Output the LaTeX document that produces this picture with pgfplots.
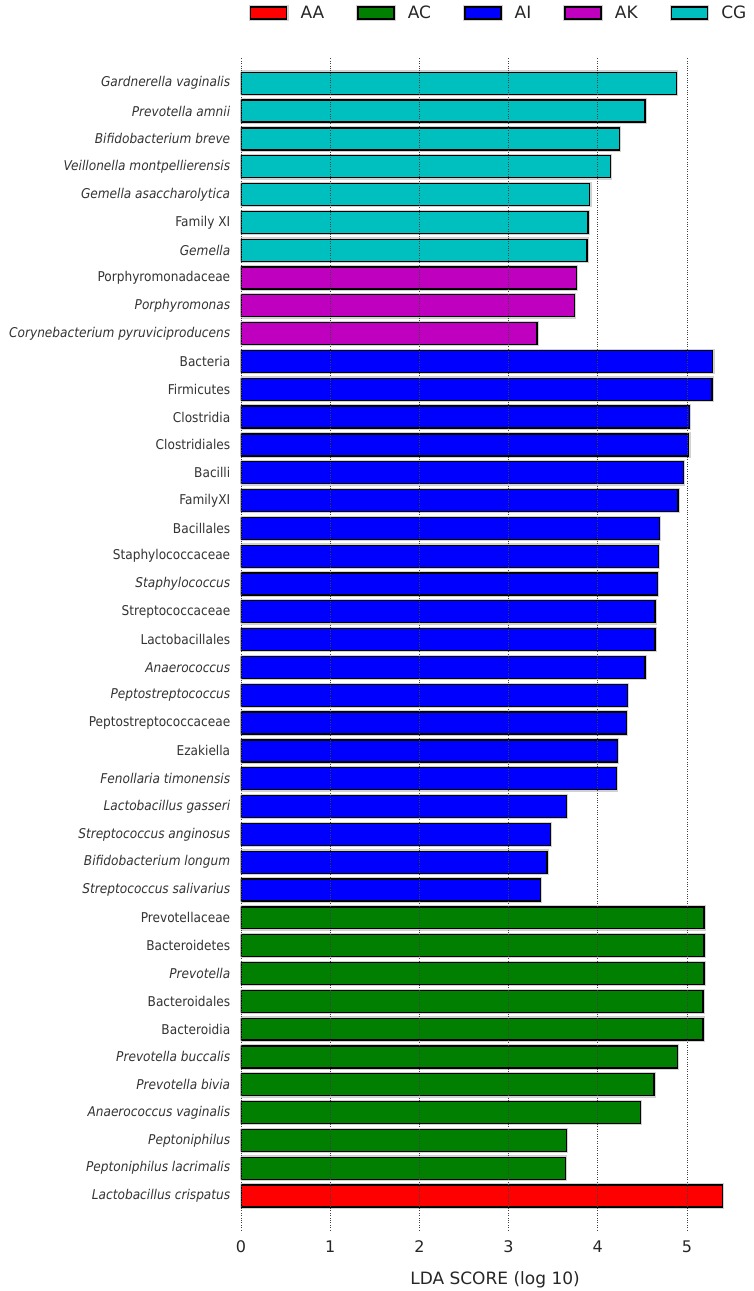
\documentclass[border=0pt]{standalone}
\usepackage{fontspec}
\setmainfont{DejaVu Sans}
\newfontfamily\condfont[ItalicFont={DejaVu Sans Condensed Oblique}]{DejaVu Sans Condensed}
\usepackage{pgfplots}
\pgfplotsset{compat=1.18}
\definecolor{cAA}{HTML}{FF0000}
\definecolor{cAC}{HTML}{007F00}
\definecolor{cAI}{HTML}{0000FF}
\definecolor{cAK}{HTML}{BF00BF}
\definecolor{cCG}{HTML}{00BFBF}
\definecolor{txt}{HTML}{333333}
\begin{document}
\begin{tikzpicture}
\path[use as bounding box] (-241pt,-61pt) rectangle (512pt,1230pt);
\begin{axis}[
  at={(0pt,0pt)}, anchor=south west,
  scale only axis,
  width=486.1pt, height=1173pt,
  xmin=0, xmax=5.45,
  ymin=-1.22, ymax=40.945,
  xbar, bar shift=0pt, bar width=0.79,
  axis line style={draw=none},
  tick style={draw=none},
  xtick={0,1,2,3,4,5},
  xmajorgrids=true,
  grid style={dotted, black!75, line width=0.7pt},
  axis on top=true,
  /pgf/number format/assume math mode=true,
  xticklabel style={font=\fontsize{16}{18}\selectfont, text=black!85, yshift=-7pt},
  xlabel={LDA SCORE (log 10)},
  xlabel style={font=\fontsize{17}{20}\selectfont, text=black!85, xshift=11pt, yshift=-12pt},
  ytick={0,...,40},
  yticklabel style={font=\condfont\fontsize{13.5}{16}\selectfont, text=txt, xshift=-3pt},
  yticklabels={
    \textit{Lactobacillus crispatus},
    \textit{Peptoniphilus lacrimalis},
    \textit{Peptoniphilus},
    \textit{Anaerococcus vaginalis},
    \textit{Prevotella bivia},
    \textit{Prevotella buccalis},
    Bacteroidia,
    Bacteroidales,
    \textit{Prevotella},
    Bacteroidetes,
    Prevotellaceae,
    \textit{Streptococcus salivarius},
    \textit{Bifidobacterium longum},
    \textit{Streptococcus anginosus},
    \textit{Lactobacillus gasseri},
    \textit{Fenollaria timonensis},
    Ezakiella,
    Peptostreptococcaceae,
    \textit{Peptostreptococcus},
    \textit{Anaerococcus},
    Lactobacillales,
    Streptococcaceae,
    \textit{Staphylococcus},
    Staphylococcaceae,
    Bacillales,
    FamilyXI,
    Bacilli,
    Clostridiales,
    Clostridia,
    Firmicutes,
    Bacteria,
    \textit{Corynebacterium pyruviciproducens},
    \textit{Porphyromonas},
    Porphyromonadaceae,
    \textit{Gemella},
    Family XI,
    \textit{Gemella asaccharolytica},
    \textit{Veillonella montpellierensis},
    \textit{Bifidobacterium breve},
    \textit{Prevotella amnii},
    \textit{Gardnerella vaginalis}},
  legend columns=5,
  legend style={at={(0.53,1.0375)}, anchor=center, draw=none, fill=none,
    font=\fontsize{17}{20}\selectfont, text=black!85,
    /tikz/every odd column/.append style={column sep=10pt},
    /tikz/every even column/.append style={column sep=30pt}},
  legend image code/.code={\draw[#1] (0pt,-6pt) rectangle (36pt,6pt);},
  every axis plot/.append style={draw=black, line width=1.3pt,
    preaction={draw=black!18, line width=3.6pt}},
]
\addplot[fill=cAA] coordinates {(5.40,0)};
\addplot[fill=cAC] coordinates {(3.64,1) (3.65,2) (4.48,3) (4.63,4) (4.89,5) (5.18,6) (5.18,7) (5.19,8) (5.19,9) (5.19,10)};
\addplot[fill=cAI] coordinates {(3.36,11) (3.43,12) (3.47,13) (3.65,14) (4.21,15) (4.22,16) (4.32,17) (4.33,18) (4.53,19) (4.64,20) (4.64,21) (4.67,22) (4.68,23) (4.69,24) (4.90,25) (4.96,26) (5.02,27) (5.03,28) (5.28,29) (5.29,30)};
\addplot[fill=cAK] coordinates {(3.32,31) (3.74,32) (3.76,33)};
\addplot[fill=cCG] coordinates {(3.88,34) (3.89,35) (3.91,36) (4.14,37) (4.24,38) (4.53,39) (4.88,40)};
\legend{AA,AC,AI,AK,CG}
\end{axis}
\end{tikzpicture}
\end{document}
